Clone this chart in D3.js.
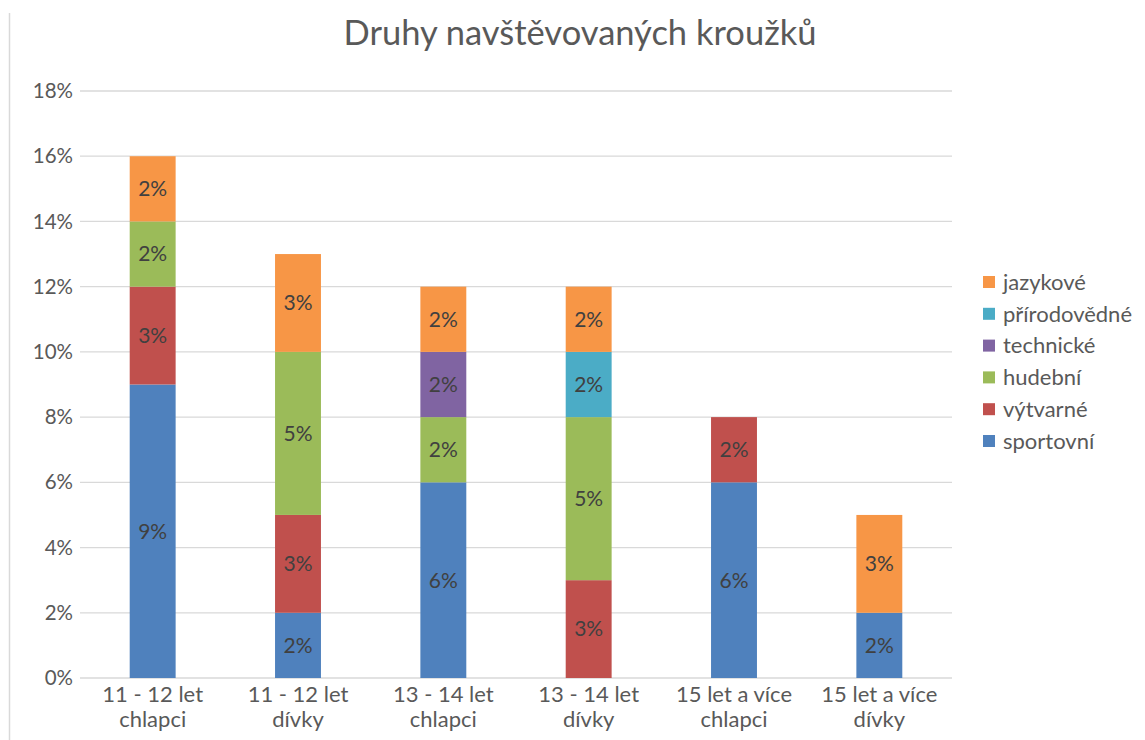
<!DOCTYPE html>
<html>
<head>
<meta charset="utf-8">
<script src="https://cdn.jsdelivr.net/npm/d3@7"></script>
<style>
  body { margin: 0; background: #fff; }
  svg { font-family: Lato, "Open Sans", sans-serif; }
</style>
</head>
<body>
<svg id="mainsvg" width="1145" height="740"></svg>
<script>
// kategorie (dva řádky popisku)
const categories = [
  ["11 - 12 let", "chlapci"],
  ["11 - 12 let", "dívky"],
  ["13 - 14 let", "chlapci"],
  ["13 - 14 let", "dívky"],
  ["15 let a více", "chlapci"],
  ["15 let a více", "dívky"]
]
const seriesNames = ["sportovní", "výtvarné", "hudební", "technické", "přírodovědné", "jazykové"]
const seriesColors = ["#4F81BD", "#C0504D", "#9BBB59", "#8064A2", "#4BACC6", "#F79646"]
// hodnoty v procentech, pořadí = categories
const sportovni    = [9, 2, 6, 0, 6, 2]
const vytvarne     = [3, 3, 0, 3, 2, 0]
const hudebni      = [2, 5, 2, 5, 0, 0]
const technicke    = [0, 0, 2, 0, 0, 0]
const prirodovedne = [0, 0, 0, 2, 0, 0]
const jazykove     = [2, 3, 2, 2, 0, 3]
const yTicks = [0, 2, 4, 6, 8, 10, 12, 14, 16, 18]

const values = [sportovni, vytvarne, hudebni, technicke, prirodovedne, jazykove]
const keys = categories.map(c => c.join(" "))
const table = keys.map((k, i) => {
  const row = { key: k }
  seriesNames.forEach((s, j) => row[s] = values[j][i])
  return row
})
const stacked = d3.stack().keys(seriesNames)(table)

const svg = d3.select('#mainsvg')
var margin = { top: 91, right: 193, bottom: 62, left: 80 }
var width = +svg.attr("width")
var height = +svg.attr("height")
const innerWidth = width - margin.left - margin.right
const innerHeight = height - margin.top - margin.bottom

const xScale = d3.scaleBand().domain(keys).range([0, innerWidth]).paddingInner(0.684).paddingOuter(0.342)
const yScale = d3.scaleLinear().domain([0, 18]).range([innerHeight, 0])

// levý okraj
svg.append("line").attr("x1", 9.5).attr("x2", 9.5).attr("y1", 13).attr("y2", 740)
  .attr("stroke", "#d9d9d9").attr("stroke-width", 1.5)

// nadpis
svg.append("text").text("Druhy navštěvovaných kroužků")
  .attr("x", 580).attr("y", 45)
  .attr("text-anchor", "middle").attr("font-size", 34.5).attr("fill", "#595959")

const g = svg.append('g').attr("transform", `translate(${margin.left}, ${margin.top})`)

// mřížka
g.selectAll(".grid").data(yTicks).join("line")
  .attr("x1", 0).attr("x2", innerWidth)
  .attr("y1", d => yScale(d)).attr("y2", d => yScale(d))
  .attr("stroke", "#d9d9d9").attr("stroke-width", 1.3)

// osa y
const yAxis = d3.axisLeft(yScale).tickValues(yTicks).tickFormat(d => d + "%").tickSize(0).tickPadding(7)
const ya = g.append("g").call(yAxis)
ya.select(".domain").remove()
ya.selectAll("text").attr("font-size", 20.5).attr("fill", "#595959").attr("font-family", "Lato, sans-serif")

// osa x - dva řádky, každý zvlášť
const xAxis = d3.axisBottom(xScale).tickSize(0).tickFormat("")
const xa = g.append("g").attr("transform", `translate(0, ${innerHeight})`).call(xAxis)
xa.select(".domain").remove()
xa.selectAll(".tick").each(function (d, i) {
  const tk = d3.select(this)
  categories[i].forEach((line, r) => {
    tk.append("text").attr("fill", "#595959").attr("font-size", 22)
      .attr("text-anchor", "middle").attr("font-family", "Lato, sans-serif")
      .attr("x", 0).attr("y", 24 + r * 25).text(line)
  })
})

// sloupce
stacked.forEach((layer, j) => {
  const lg = g.append("g")
  layer.forEach((d, i) => {
    if (d[1] - d[0] <= 0) return
    lg.append("rect")
      .attr("x", xScale(keys[i]))
      .attr("y", yScale(d[1]))
      .attr("width", xScale.bandwidth())
      .attr("height", yScale(d[0]) - yScale(d[1]))
      .attr("fill", seriesColors[j])
    lg.append("text")
      .attr("x", xScale(keys[i]) + xScale.bandwidth() / 2)
      .attr("y", (yScale(d[0]) + yScale(d[1])) / 2)
      .attr("dy", "0.35em")
      .attr("text-anchor", "middle")
      .attr("font-size", 21).attr("fill", "#404040")
      .text((d[1] - d[0]) + "%")
  })
})

// legenda (obráceně)
const legend = svg.append("g").attr("transform", "translate(983, 282)")
seriesNames.slice().reverse().forEach((s, k) => {
  const idx = seriesNames.indexOf(s)
  const item = legend.append("g").attr("transform", `translate(0, ${k * 31.8})`)
  item.append("rect").attr("x", 0).attr("y", -6).attr("width", 12).attr("height", 12).attr("fill", seriesColors[idx])
  item.append("text").attr("x", 20).attr("y", 0).attr("dy", "0.35em")
    .attr("font-size", 22).attr("fill", "#595959").text(s)
})
</script>
</body>
</html>
